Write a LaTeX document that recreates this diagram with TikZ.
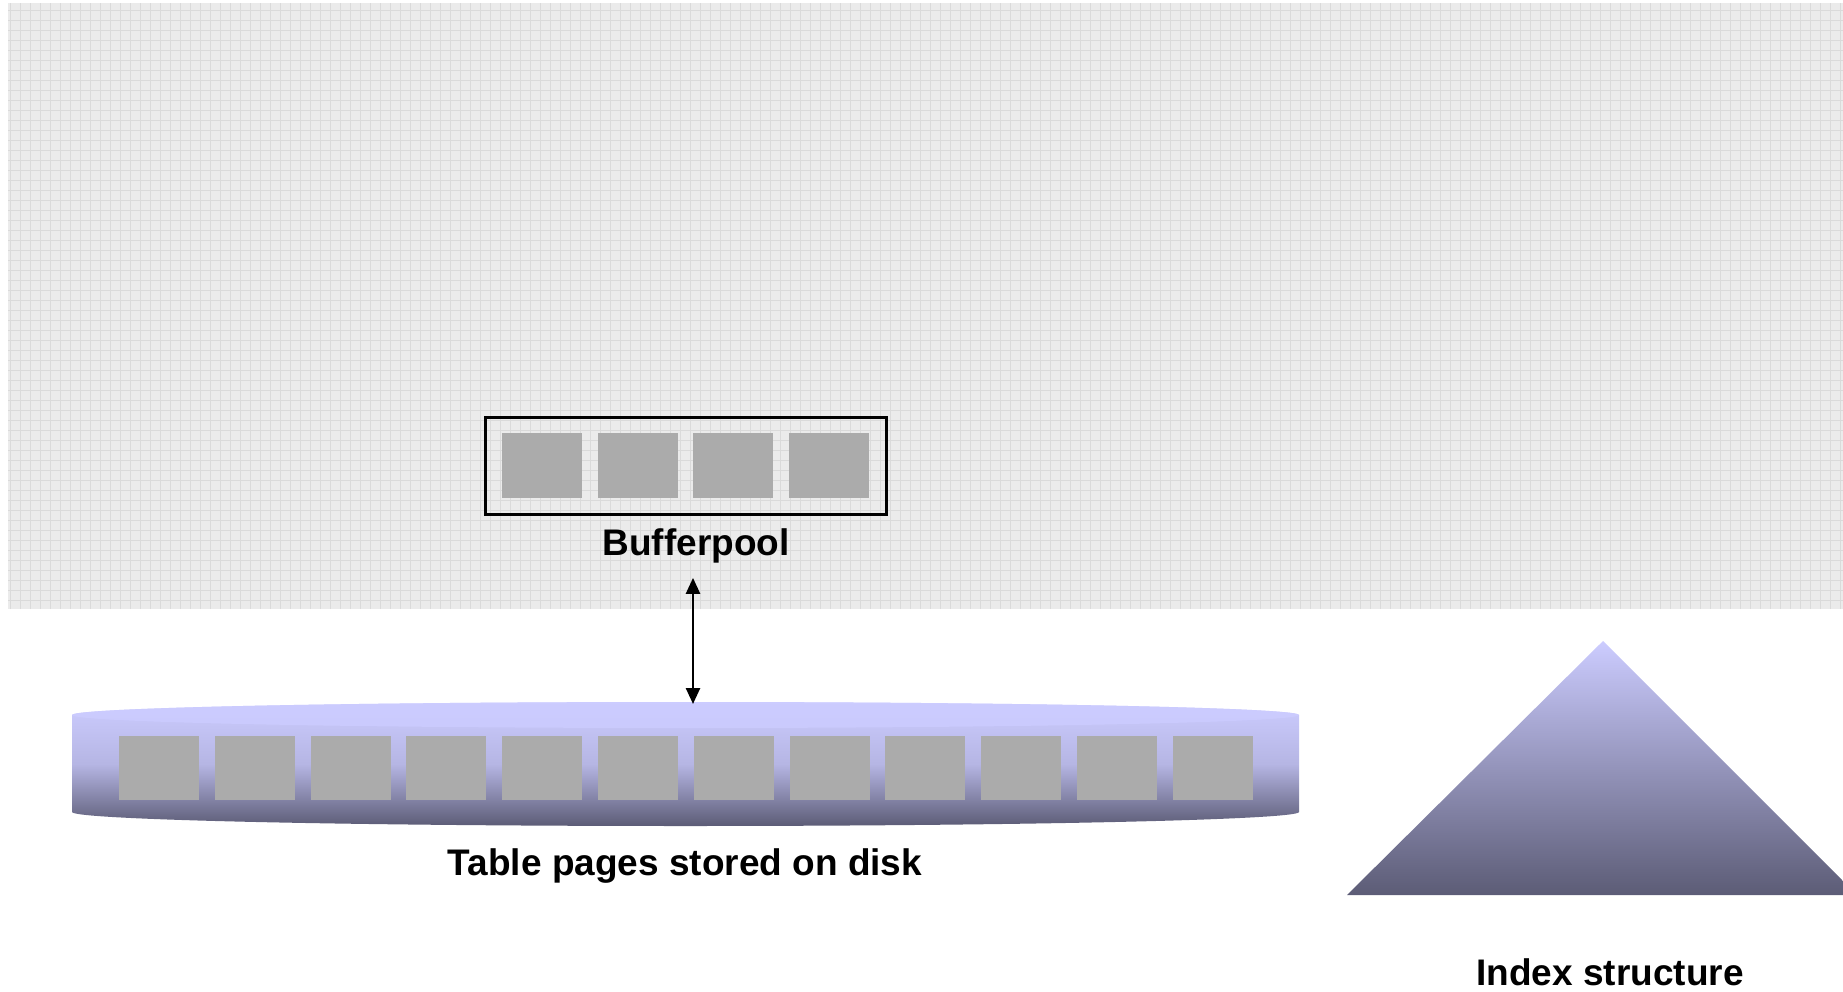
\documentclass[tikz,border=0pt]{standalone}
\usepackage{fontspec}
\setmainfont{Liberation Sans}
\usetikzlibrary{arrows.meta}

\definecolor{memgray}{HTML}{EBEBEB}
\definecolor{memgrid}{HTML}{DADADA}
\definecolor{pagegray}{HTML}{ABABAB}
\definecolor{disklight}{HTML}{CCCCFF}
\definecolor{diskdark}{HTML}{5C5C76}

\tikzset{
  page/.style={fill=pagegray, minimum width=80pt, minimum height=65pt, inner sep=0pt},
  lbl/.style={font=\bfseries\fontsize{37}{44}\selectfont, anchor=base, inner sep=0pt},
}

\begin{document}
\begin{tikzpicture}[x=1pt,y=1pt]
  \useasboundingbox (0,0) rectangle (1843,-992);
  % memory area
  \fill[memgray] (8,-3) rectangle (1843,-609);
  \draw[step=10,memgrid,line width=0.6pt] (8,-3) grid (1843,-609);

  % bufferpool
  \draw[line width=3pt] (485,-417) rectangle (886,-514);
  \foreach \i in {0,...,3} \node[page] (bp\i) at (542+95.7*\i,-465.5) {};
  \node[lbl] (bplabel) at (696,-555) {Bufferpool};

  % disk
  \shade[top color=disklight, bottom color=diskdark, middle color=disklight!80!diskdark]
    (72,-715) -- (72,-812) arc[start angle=180, end angle=360, x radius=613.5, y radius=14]
    -- (1299,-715) arc[start angle=0, end angle=180, x radius=613.5, y radius=13] -- cycle;
  \fill[disklight, opacity=0.8] (685.5,-715) ellipse[x radius=613.5, y radius=13];
  \coordinate (disktop) at (693,-704);
  \foreach \i in {0,...,11} \node[page, minimum height=64pt] (dp\i) at (159+95.8*\i,-768) {};
  \node[lbl] (disklabel) at (685,-875) {Table pages stored on disk};

  \draw[{Triangle[width=14pt,length=16pt]}-{Triangle[width=14pt,length=16pt]}, line width=2.5pt]
    ([yshift=-15pt]disktop |- bplabel.south) -- (disktop);

  % index
  \shade[top color=disklight, bottom color=diskdark]
    (1347,-895) -- (1603,-641) -- (1843,-881) -- (1843,-895) -- cycle;
  \node[lbl] (idxlabel) at (1610,-985) {Index structure};
\end{tikzpicture}
\end{document}
